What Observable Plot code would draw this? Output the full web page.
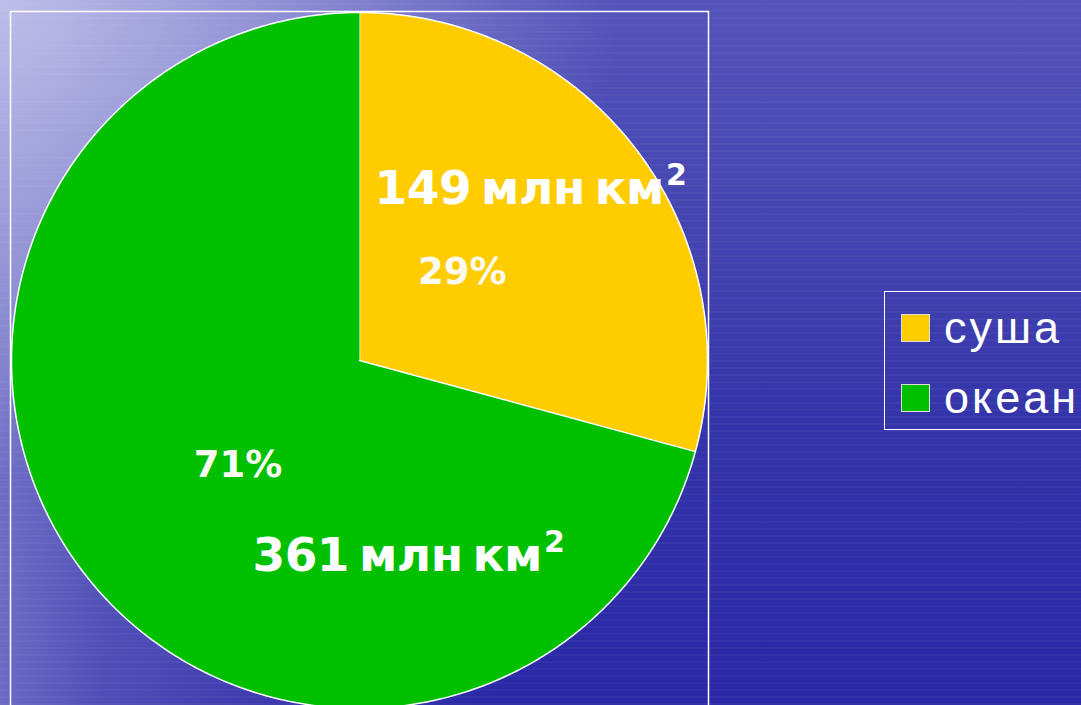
<!DOCTYPE html>
<html><head><meta charset="utf-8">
<script src="https://cdn.jsdelivr.net/npm/d3@7"></script>
<script src="https://cdn.jsdelivr.net/npm/@observablehq/plot@0.6"></script>
<style>
html,body{margin:0;padding:0;width:1081px;height:705px;overflow:hidden;}
body{
  position:relative;
  background:
    repeating-linear-gradient(0deg, rgba(255,255,255,0.03) 0px, rgba(255,255,255,0.03) 2px, rgba(0,0,0,0) 2px, rgba(0,0,0,0) 7px),
    radial-gradient(ellipse 620px 480px at 0% 0%, rgba(200,200,238,0.85), rgba(200,200,238,0) 100%),
    linear-gradient(to right, rgba(160,160,220,0.55) 0px, rgba(150,150,215,0.35) 100px, rgba(140,140,210,0.12) 320px, rgba(140,140,210,0) 500px),
    linear-gradient(to bottom, #5454ba 0%, #4646b2 30%, #3434aa 60%, #2a28a6 100%);
}
#chart{position:absolute;left:0;top:0;}
#chart svg{overflow:hidden;}
#chart g[font-size="47"] text{letter-spacing:-0.5px;word-spacing:-6px;}
#legend{position:absolute;left:884px;top:291px;width:230px;height:139px;border:1.5px solid #fff;box-sizing:border-box;
  font-family:"Liberation Sans",Arial,sans-serif;font-size:45px;color:#fff;}
.item{position:absolute;left:16px;display:flex;align-items:center;letter-spacing:3px;}
.sw{width:29px;height:28px;border:1px solid #ddd;box-sizing:border-box;margin-right:14px;}
</style></head>
<body>
<div id="chart"></div>
<div id="legend"></div>
<script>
// Data
const categories = ["суша", "океан"];
const areas = [149, 361];          // млн км²
const colors = ["#ffcc00", "#00c000"];

const total = d3.sum(areas);
const rows = categories.map((name, i) => ({name, area: areas[i], pct: Math.round(areas[i] / total * 100)}));

const arcs = d3.pie().sort(null).value(d => d.area)(rows);

// polygon points for each slice (angle 0 at 12 o'clock, clockwise)
const pts = [];
for (const a of arcs) {
  pts.push({name: a.data.name, x: 0, y: 0});
  const n = Math.ceil((a.endAngle - a.startAngle) / (Math.PI / 360));
  for (let k = 0; k <= n; k++) {
    const t = a.startAngle + (a.endAngle - a.startAngle) * k / n;
    pts.push({name: a.data.name, x: Math.sin(t), y: Math.cos(t)});
  }
}

// label placement (angle offset in degrees from the slice's mid-angle, radius fraction)
const place = {
  "суша":  {pct: {dA: -3.4, r: 0.39}, area: {dA: -7.6, r: 0.695}},
  "океан": {pct: {dA: -3.2, r: 0.46}, area: {dA: -66.6, r: 0.58}}
};
function pos(a, kind) {
  const p = place[a.data.name][kind];
  const t = (a.startAngle + a.endAngle) / 2 + p.dA * Math.PI / 180;
  return {x: p.r * Math.sin(t), y: p.r * Math.cos(t)};
}
const labels = arcs.flatMap(a => [
  {kind: "area", text: `${a.data.area} млн км²`, ...pos(a, "area")},
  {kind: "pct", text: `${a.data.pct}%`, ...pos(a, "pct")}
]);

const chart = Plot.plot({
  width: 1081,
  height: 705,
  marginLeft: 10, marginRight: 373, marginTop: 11, marginBottom: -6,
  style: {background: "transparent", overflow: "hidden"},
  x: {domain: [-1, 1], range: [11, 707], axis: null},
  y: {domain: [-1, 1], range: [708, 12], axis: null},
  color: {domain: categories, range: colors},
  marks: [
    Plot.frame({stroke: "white", strokeWidth: 1.5}),
    Plot.line(pts, {x: "x", y: "y", z: "name", fill: "name", stroke: "white", strokeWidth: 1.5, strokeLinejoin: "round"}),
    Plot.text(labels.filter(d => d.kind === "area"), {x: "x", y: "y", text: "text", fill: "white",
      fontSize: 47, fontWeight: "bold", fontFamily: "DejaVu Sans", textAnchor: "middle", lineAnchor: "middle"}),
    Plot.text(labels.filter(d => d.kind === "pct"), {x: "x", y: "y", text: "text", fill: "#fafaf2",
      fontSize: 37, fontWeight: "bold", fontFamily: "DejaVu Sans", textAnchor: "middle", lineAnchor: "middle"})
  ]
});
document.getElementById("chart").appendChild(chart);

// render the superscript "²" as a larger raised "2", like the original
chart.querySelectorAll("text").forEach(t => {
  const s = t.textContent;
  if (s.endsWith("²")) {
    t.textContent = s.slice(0, -1);
    const sup = document.createElementNS("http://www.w3.org/2000/svg", "tspan");
    sup.setAttribute("font-size", "30");
    sup.setAttribute("dy", "-19");
    sup.setAttribute("dx", "2");
    sup.textContent = "2";
    t.appendChild(sup);
  }
});

// legend
const lg = document.getElementById("legend");
categories.forEach((c, i) => {
  const it = document.createElement("div");
  it.className = "item";
  it.style.top = (i === 0 ? 10 : 80) + "px";
  it.innerHTML = `<span class="sw" style="background:${colors[i]}"></span><span>${c}</span>`;
  lg.appendChild(it);
});
</script>
</body></html>
